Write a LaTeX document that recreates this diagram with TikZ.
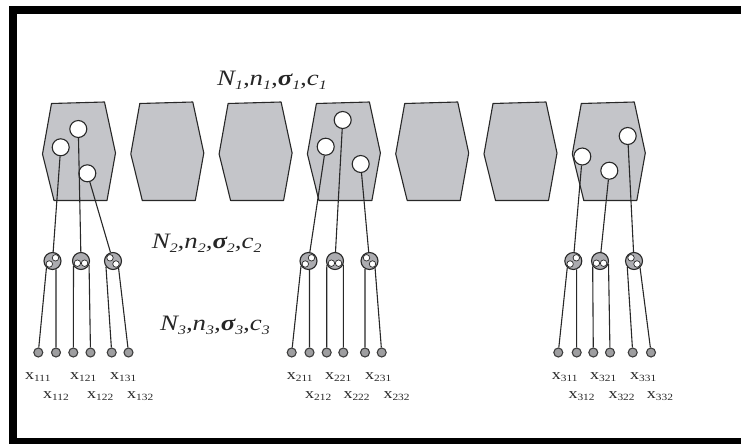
\documentclass[tikz,border=0pt]{standalone}
\usepackage{fontspec}
\setmainfont{Liberation Serif}
\definecolor{hexgray}{RGB}{196,197,201}
\definecolor{midgray}{RGB}{172,172,176}
\definecolor{leafgray}{RGB}{158,158,160}
\definecolor{inkgray}{RGB}{40,40,40}
% lowered, smaller index used in the level labels
\newcommand\lowsub[1]{\raisebox{-4.5pt}{\fontsize{13pt}{14pt}\selectfont #1}}
% level label N_k, n_k, sigma_k, c_k
\newcommand\layerlabel[1]{\scalebox{1.22}[1]{\fontsize{22pt}{26pt}\selectfont\itshape
  N\lowsub{#1},n\lowsub{#1},{\bfseries σ}\lowsub{#1},c\lowsub{#1}}}
% leaf label x_{ijk}
\newcommand\leaflabel[1]{\scalebox{1.2}[1]{\fontsize{15pt}{18pt}\selectfont
  x\raisebox{-2.5pt}{\fontsize{9.5pt}{11pt}\selectfont #1}}}
\tikzset{
  hexline/.style={fill=hexgray, draw=inkgray, line width=1.1pt, line join=round},
  hexcell/.pic={\path[hexline] (-27,-49.5) -- (26,-51) -- (37,0) -- (28.5,47.5)
      -- (-24.5,47.5) -- (-36,1) -- cycle;},
  hole/.style={circle, draw=inkgray, fill=white, line width=1.1pt,
      minimum size=17pt, inner sep=0pt},
  midnode/.style={circle, draw=inkgray, fill=midgray, line width=1.1pt,
      minimum size=17pt, inner sep=0pt},
  pin/.style={circle, draw=inkgray, fill=white, line width=0.7pt,
      minimum size=6.5pt, inner sep=0pt},
  leaf/.style={circle, draw=inkgray!90, fill=leafgray, line width=1.1pt,
      minimum size=9pt, inner sep=0pt},
  wire/.style={draw=inkgray, line width=1.1pt},
  txt/.style={inner sep=0pt, anchor=base west, text=black!85},
}
\begin{document}
\begin{tikzpicture}[x=1pt,y=-1pt]
\useasboundingbox (0,0) rectangle (741,444);
% heavy frame: top, left and bottom bars
\fill[black] (9,6) rectangle (741,14);
\fill[black] (9,6) rectangle (17,444);
\fill[black] (9,438) rectangle (741,444);

% row of hexagonal cells
\foreach \cx in {78.5,166.8,255.1,343.4,431.7,520,608.3}
  \pic at (\cx,153) {hexcell};

% units inside the first, fourth and seventh cells
\node[hole] (c11) at (60.7,147.3) {};
\node[hole] (c12) at (78.3,129) {};
\node[hole] (c13) at (87.3,173.3) {};
\node[hole] (c21) at (325.7,146.7) {};
\node[hole] (c22) at (342.7,120) {};
\node[hole] (c23) at (360.7,164) {};
\node[hole] (c31) at (582.3,156.5) {};
\node[hole] (c32) at (609.3,170.7) {};
\node[hole] (c33) at (627.7,136) {};

% second level nodes, each with two inner units
\foreach \g/\a/\b/\c in {1/52.5/81/113, 2/308.5/335/369.5, 3/573.3/600/634}{
  \node[midnode] (m\g1) at (\a,261) {};
  \node[pin] (p\g1a) at ([shift={(3,-3.2)}]m\g1) {};
  \node[pin] (p\g1b) at ([shift={(-3.2,3)}]m\g1) {};
  \node[midnode] (m\g2) at (\b,261) {};
  \node[pin] (p\g2a) at ([shift={(-3.6,2.2)}]m\g2) {};
  \node[pin] (p\g2b) at ([shift={(3.6,2.2)}]m\g2) {};
  \node[midnode] (m\g3) at (\c,261) {};
  \node[pin] (p\g3a) at ([shift={(-3,-3.2)}]m\g3) {};
  \node[pin] (p\g3b) at ([shift={(3,3)}]m\g3) {};
}

% cell units down to the second level
\foreach \k in {11,12,13,21,22,23,31,32,33}
  \draw[wire] (c\k) -- (m\k);

% leaves
\foreach \n/\x in {111/38.3,112/56,121/73.3,122/90.5,131/111.7,132/128.5,
                   211/291.7,212/309.5,221/326.7,222/343.3,231/365,232/381.7,
                   311/558.3,312/576.7,321/593.3,322/610,331/632.7,332/651}
  \node[leaf] (l\n) at (\x,352.5) {};

% second level down to the leaves
\foreach \m/\a/\b/\p/\q in {11/228/293/111/112, 12/214/333/121/122, 13/219/308/131/132,
                            21/214/276/211/212, 22/205/337/221/222, 23/240/308/231/232,
                            31/228/291/311/312, 32/216/340/321/322, 33/222/312/331/332}{
  \draw[wire] (m\m.\a) -- (l\p);
  \draw[wire] (m\m.\b) -- (l\q);
}

% leaf labels
\foreach \n/\x/\y in {111/25/379, 112/43/398, 121/70/379, 122/87/398, 131/110/379, 132/127/398,
                      211/286.7/379, 212/305/398, 221/325/379, 222/343.3/398, 231/365/379, 232/383.3/398,
                      311/551.7/379, 312/568.3/398, 321/590/379, 322/608.3/398, 331/630/379, 332/646.7/398}
  \node[txt] (t\n) at (\x,\y) {\leaflabel{\n}};

% level labels
\node[txt] (lev1) at (217,85) {\layerlabel{1}};
\node[txt] (lev2) at (151.7,248.3) {\layerlabel{2}};
\node[txt] (lev3) at (160,330) {\layerlabel{3}};
\end{tikzpicture}
\end{document}
